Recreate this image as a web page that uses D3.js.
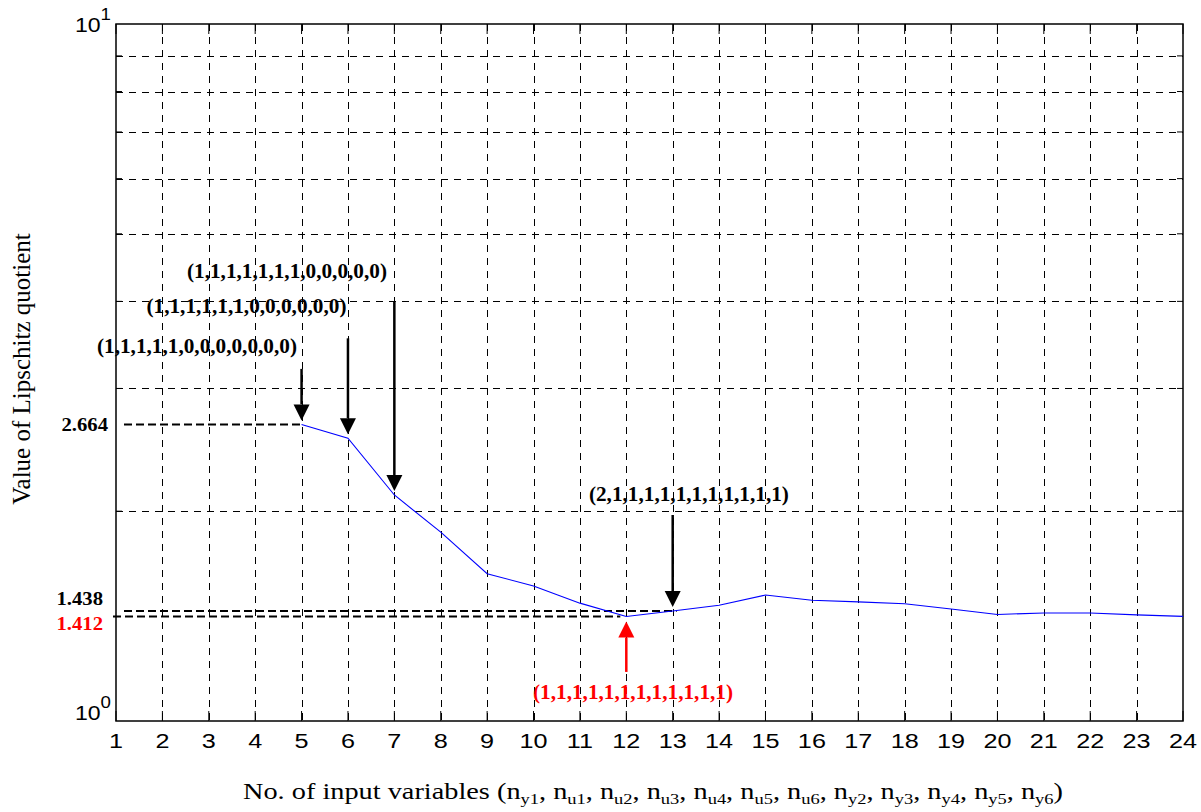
<!DOCTYPE html>
<html>
<head>
<meta charset="utf-8">
<script src="https://cdn.jsdelivr.net/npm/d3@7"></script>
<style>
  body { margin: 0; background: #fff; }
  svg { display: block; }
  .serif { font-family: "Liberation Serif", "Times New Roman", Times, serif; }
  .sans { font-family: "Liberation Sans", Arial, Helvetica, sans-serif; }
</style>
</head>
<body>
<svg id="chart" width="1201" height="812"></svg>
<script>
// Number of input variables on the x axis
const xTickValues = [1, 2, 3, 4, 5, 6, 7, 8, 9, 10, 11, 12, 13, 14, 15, 16, 17, 18, 19, 20, 21, 22, 23, 24];
// Lipschitz quotient per number of input variables
const inputCounts = [5, 6, 7, 8, 9, 10, 11, 12, 13, 14, 15, 16, 17, 18, 19, 20, 21, 22, 23, 24];
const lipschitz = [2.664, 2.545, 2.110, 1.866, 1.627, 1.562, 1.476, 1.412, 1.438, 1.466, 1.516, 1.490, 1.482, 1.473, 1.448, 1.422, 1.429, 1.429, 1.420, 1.413];
// Log-axis ticks
const yDecades = [1, 10];
const yMinorTicks = [2, 3, 4, 5, 6, 7, 8, 9];

// Reference levels marked on the left
const refAt = [5, 13, 12];
const refValue = [2.664, 1.438, 1.412];
const refLabel = ["2.664", "1.438", "1.412"];
const refColor = ["#000", "#000", "#f00"];

// Arrows pointing at selected structures (x, tail value, head value)
const arrowAt = [5, 6, 7, 13, 12];
const arrowTail = [3.2, 3.54, 4.0, 1.975, 1.176];
const arrowHead = [2.664, 2.545, 2.110, 1.438, 1.412];
const arrowColor = ["#000", "#000", "#000", "#000", "#f00"];

// Structure labels (text, centre x, baseline value)
const structText = [
  "(1,1,1,1,1,0,0,0,0,0,0,0)",
  "(1,1,1,1,1,1,0,0,0,0,0,0)",
  "(1,1,1,1,1,1,1,0,0,0,0,0)",
  "(2,1,1,1,1,1,1,1,1,1,1,1)",
  "(1,1,1,1,1,1,1,1,1,1,1,1)"
];
const structX = [2.746, 3.813, 4.686, 13.35, 12.145];
const structY = [3.373, 3.85, 4.32, 2.068, 1.0754];
const structColor = ["#000", "#000", "#000", "#000", "#f00"];

// Axis title subscripts
const xTitleVars = ["y1", "u1", "u2", "u3", "u4", "u5", "u6", "y2", "y3", "y4", "y5", "y6"];

const svg = d3.select("#chart");
const L = 116, R = 1183, T = 24, B = 721;

const x = d3.scaleLinear().domain([1, 24]).range([L, R]);
const y = d3.scaleLog().domain([1, 10]).range([B, T]);

// grid
const grid = svg.append("g").attr("stroke", "#000").attr("stroke-width", 1)
  .attr("stroke-dasharray", "7,6").attr("fill", "none");
grid.selectAll("line.v").data(xTickValues.filter(d => d > 1 && d < 24)).join("line")
  .attr("class", "v")
  .attr("x1", d => Math.round(x(d)) + 0.5).attr("x2", d => Math.round(x(d)) + 0.5)
  .attr("y1", T).attr("y2", B);
grid.selectAll("line.h").data(yMinorTicks).join("line")
  .attr("class", "h")
  .attr("x1", L).attr("x2", R)
  .attr("y1", d => Math.round(y(d)) + 0.5).attr("y2", d => Math.round(y(d)) + 0.5);

// axis box and ticks
const ax = svg.append("g").attr("stroke", "#000").attr("fill", "none");
ax.append("rect").attr("x", L).attr("y", T).attr("width", R - L).attr("height", B - T)
  .attr("stroke-width", 1.5);
ax.selectAll("line.xt").data(xTickValues).join("line").attr("class", "xt")
  .attr("x1", d => x(d)).attr("x2", d => x(d)).attr("y1", B).attr("y2", B - 10);
ax.selectAll("line.xtt").data(xTickValues).join("line").attr("class", "xtt")
  .attr("x1", d => x(d)).attr("x2", d => x(d)).attr("y1", T).attr("y2", T + 10);
ax.selectAll("line.ym").data(yMinorTicks).join("line").attr("class", "ym")
  .attr("x1", L).attr("x2", L + 6).attr("y1", d => y(d)).attr("y2", d => y(d));
ax.selectAll("line.ymr").data(yMinorTicks).join("line").attr("class", "ymr")
  .attr("x1", R).attr("x2", R - 6).attr("y1", d => y(d)).attr("y2", d => y(d));

// x tick labels
svg.append("g").selectAll("text").data(xTickValues).join("text")
  .attr("class", "sans")
  .attr("transform", d => `translate(${x(d)},${B + 27}) scale(1.2,1)`)
  .attr("text-anchor", "middle")
  .attr("font-size", 21)
  .text(d => d);

// y tick labels 10^0, 10^1
const yl = svg.append("g").selectAll("text").data(yDecades).join("text")
  .attr("class", "sans")
  .attr("transform", d => `translate(${L - 5},${y(d) + (d === 1 ? -1 : 8)}) scale(1.1,1)`)
  .attr("text-anchor", "end")
  .attr("font-size", 21);
yl.append("tspan").text("10");
yl.append("tspan").attr("dy", -12).attr("font-size", 17).text(d => Math.round(Math.log10(d)));

// reference dashed levels
const refs = svg.append("g");
refValue.forEach((v, i) => {
  refs.append("line")
    .attr("x1", i === 2 ? L - 3 : L + 8).attr("x2", x(refAt[i]) - (i === 2 ? 6 : 0) + (i === 1 ? 4 : 0))
    .attr("y1", y(v)).attr("y2", y(v))
    .attr("stroke", "#000").attr("stroke-width", 2).attr("stroke-dasharray", "8,4");
  refs.append("text")
    .attr("class", "serif")
    .attr("transform", `translate(${i === 0 ? L - 8 : L - 13},${y(v) + (i === 0 ? 7 : i === 1 ? -6 : 13)}) scale(1.15,1)`)
    .attr("text-anchor", "end")
    .attr("font-weight", "bold")
    .attr("font-size", 18)
    .attr("fill", refColor[i])
    .text(refLabel[i]);
});

// data line
svg.append("path")
  .datum(inputCounts.map((c, i) => [c, lipschitz[i]]))
  .attr("fill", "none").attr("stroke", "#0000ff").attr("stroke-width", 1.1)
  .attr("d", d3.line().x(d => x(d[0])).y(d => y(d[1])));

// arrows
const arr = svg.append("g");
arrowAt.forEach((a, i) => {
  const ax0 = x(a);
  const down = arrowTail[i] > arrowHead[i];
  const tipY = y(arrowHead[i]) + (down ? -4 : 5);
  const tailY = y(arrowTail[i]);
  const hh = 16, hw = 8;
  const baseY = down ? tipY - hh : tipY + hh;
  arr.append("line").attr("x1", ax0).attr("x2", ax0).attr("y1", tailY).attr("y2", baseY)
    .attr("stroke", arrowColor[i]).attr("stroke-width", 2.5);
  arr.append("path")
    .attr("d", `M${ax0},${tipY}L${ax0 - hw},${baseY}L${ax0 + hw},${baseY}Z`)
    .attr("fill", arrowColor[i]);
});

// structure labels
svg.append("g").selectAll("text").data(structText).join("text")
  .attr("class", "serif")
  .attr("x", (d, i) => x(structX[i]) - 100)
  .attr("y", (d, i) => y(structY[i]))
  .attr("textLength", 200).attr("lengthAdjust", "spacingAndGlyphs")
  .attr("font-weight", "bold")
  .attr("font-size", 20)
  .attr("fill", (d, i) => structColor[i])
  .text(d => d);

// axis titles
const xt = svg.append("text")
  .attr("class", "serif")
  .attr("x", 243).attr("y", 799)
  .attr("textLength", 820).attr("lengthAdjust", "spacingAndGlyphs")
  .attr("font-size", 23);
xt.append("tspan").text("No. of input variables (");
xTitleVars.forEach((v, i) => {
  xt.append("tspan").text("n");
  xt.append("tspan").attr("dy", 5).attr("font-size", 15).text(v);
  xt.append("tspan").attr("dy", -5).text(i < xTitleVars.length - 1 ? ", " : ")");
});

svg.append("text")
  .attr("class", "serif")
  .attr("transform", `translate(30,${369}) rotate(-90)`)
  .attr("text-anchor", "middle")
  .attr("font-size", 25)
  .text("Value of Lipschitz quotient");
</script>
</body>
</html>
